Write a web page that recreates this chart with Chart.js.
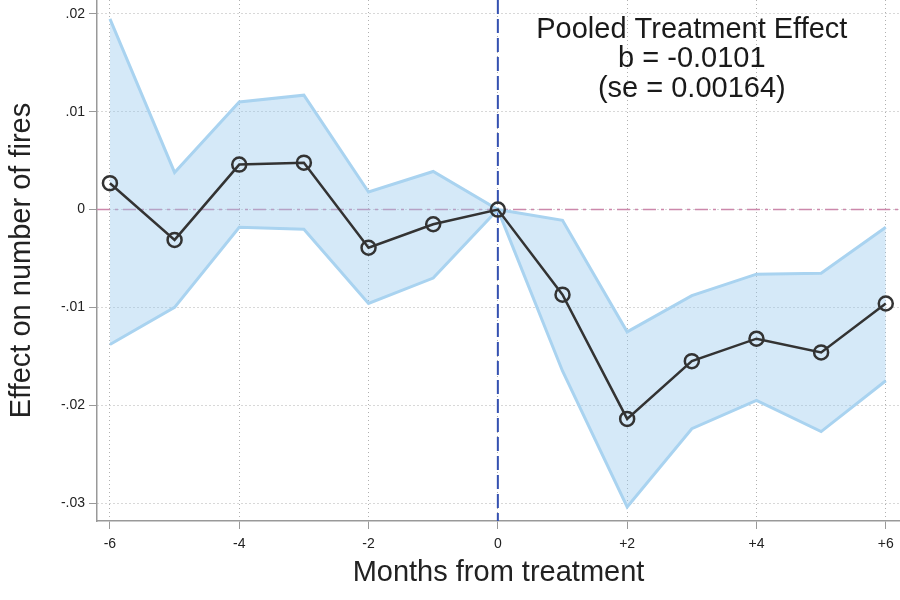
<!DOCTYPE html>
<html>
<head>
<meta charset="utf-8">
<script src="https://cdn.jsdelivr.net/npm/chart.js@4.4.1/dist/chart.umd.min.js"></script>
<style>
    html, body { margin: 0; padding: 0; background: #fff; }
    #wrap { width: 900px; height: 600px; }
</style>
</head>
<body>
<div id="wrap"><canvas id="eventChart" width="900" height="600"></canvas></div>
<script>
// Event-study estimates
const months = [-6, -5, -4, -3, -2, -1, 0, 1, 2, 3, 4, 5, 6];
const estimates = [0.0027, -0.0031, 0.0046, 0.0048, -0.0039, -0.0015, 0, -0.0087, -0.0214, -0.0155, -0.0132, -0.0146, -0.0096];
const upperCI = [0.0195, 0.0038, 0.0110, 0.0117, 0.0018, 0.0039, 0, -0.0011, -0.0125, -0.0088, -0.0066, -0.0065, -0.0018];
const lowerCI = [-0.0138, -0.0100, -0.0018, -0.0020, -0.0096, -0.0070, 0, -0.0165, -0.0304, -0.0224, -0.0195, -0.0227, -0.0175];

// Axis ticks
const xTicks = [-6, -4, -2, 0, 2, 4, 6];
const yTicks = [-0.03, -0.02, -0.01, 0, 0.01, 0.02];

const noteLines = ['Pooled Treatment Effect', 'b = -0.0101', '(se = 0.00164)'];

const FONT = '"Liberation Sans", Arial, Helvetica, sans-serif';

function toPoints(values) {
    return months.map((m, i) => ({ x: m, y: values[i] }));
}

function fmtX(v) {
    if (v > 0) return '+' + v;
    return String(v);
}

function fmtY(v) {
    if (Math.abs(v) < 1e-9) return '0';
    const s = v.toFixed(2);
    return s.replace('0.', '.');
}

// Reference lines at x = 0 and y = 0, the text note and the tick labels
const refLines = {
    id: 'refLines',
    beforeDatasetsDraw(chart) {
        const { ctx, chartArea, scales } = chart;
        const x0 = scales.x.getPixelForValue(0);
        const y0 = scales.y.getPixelForValue(0);
        ctx.save();
        ctx.lineWidth = 1.5;
        ctx.strokeStyle = '#cc88ab';
        ctx.setLineDash([13, 5, 3, 5]);
        ctx.beginPath();
        ctx.moveTo(chartArea.left, y0);
        ctx.lineTo(chartArea.right, y0);
        ctx.stroke();

        ctx.lineWidth = 2;
        ctx.strokeStyle = '#3450b0';
        ctx.setLineDash([14, 5]);
        ctx.beginPath();
        ctx.moveTo(x0, chartArea.top);
        ctx.lineTo(x0, chartArea.bottom);
        ctx.stroke();
        ctx.restore();
    },
    afterDatasetsDraw(chart) {
        const { ctx, scales } = chart;
        const cx = scales.x.getPixelForValue(3);
        const cy = scales.y.getPixelForValue(0.0184);
        ctx.save();
        ctx.fillStyle = '#1a1a1a';
        ctx.font = '29px ' + FONT;
        ctx.textAlign = 'center';
        ctx.textBaseline = 'middle';
        noteLines.forEach((line, i) => ctx.fillText(line, cx, cy + i * 29.5));

        // tick labels (drawn here so they don't pad the plot area)
        ctx.font = '14px ' + FONT;
        ctx.fillStyle = '#222';
        xTicks.forEach(v => {
            ctx.fillText(fmtX(v), scales.x.getPixelForValue(v), scales.x.top + 23);
        });
        ctx.textAlign = 'right';
        yTicks.forEach(v => {
            ctx.fillText(fmtY(v), scales.y.right - 12, scales.y.getPixelForValue(v));
        });
        ctx.restore();
    }
};

new Chart(document.getElementById('eventChart'), {
    type: 'line',
    data: {
        datasets: [
            {
                label: 'Upper',
                data: toPoints(upperCI),
                borderColor: '#a9d3f0',
                borderWidth: 3,
                backgroundColor: 'rgba(150, 200, 238, 0.4)',
                pointRadius: 0,
                fill: '+1',
                tension: 0,
                order: 2
            },
            {
                label: 'Lower',
                data: toPoints(lowerCI),
                borderColor: '#a9d3f0',
                borderWidth: 3,
                pointRadius: 0,
                fill: false,
                tension: 0,
                order: 1
            },
            {
                label: 'Estimate',
                data: toPoints(estimates),
                borderColor: '#333333',
                borderWidth: 2.5,
                pointRadius: 7,
                pointBorderWidth: 2.5,
                pointBorderColor: '#333333',
                pointBackgroundColor: 'rgba(0,0,0,0)',
                fill: false,
                tension: 0,
                order: 0
            }
        ]
    },
    options: {
        responsive: false,
        animation: false,
        layout: { padding: 0, autoPadding: false },
        plugins: {
            legend: { display: false },
            tooltip: { enabled: false }
        },
        scales: {
            x: {
                type: 'linear',
                min: -6.2,
                max: 6.22,
                afterBuildTicks: (scale) => { scale.ticks = xTicks.map(v => ({ value: v })); },
                afterFit: (scale) => { scale.height = 79; },
                ticks: { display: false },
                grid: {
                    color: '#b0b0b0',
                    lineWidth: 1,
                    tickColor: '#999',
                    tickLength: 8,
                    tickBorderDash: []
                },
                border: { display: true, color: '#999', width: 1.5, dash: [1, 3] },
                title: {
                    display: true,
                    text: 'Months from treatment',
                    color: '#222',
                    font: { family: FONT, size: 29 },
                    padding: { top: 10, bottom: 10 }
                }
            },
            y: {
                type: 'linear',
                min: -0.03184,
                max: 0.02143,
                afterBuildTicks: (scale) => { scale.ticks = yTicks.map(v => ({ value: v })); },
                afterFit: (scale) => { scale.width = 97; },
                ticks: { display: false },
                grid: {
                    color: '#b0b0b0',
                    lineWidth: 1,
                    tickColor: '#999',
                    tickLength: 8,
                    tickBorderDash: []
                },
                border: { display: true, color: '#999', width: 1.5, dash: [1, 3] },
                title: {
                    display: true,
                    text: 'Effect on number of fires',
                    color: '#222',
                    font: { family: FONT, size: 29 },
                    padding: { top: 5, bottom: 5 }
                }
            }
        }
    },
    plugins: [refLines]
});
</script>
</body>
</html>
